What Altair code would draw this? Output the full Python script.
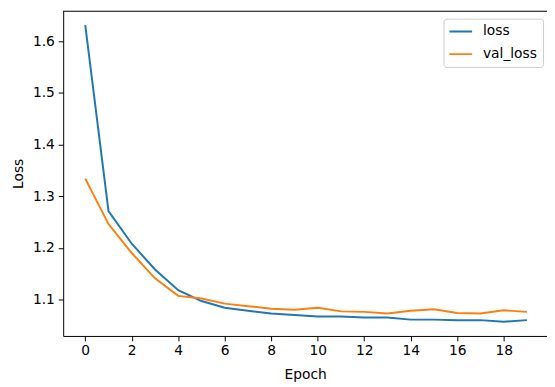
import altair as alt
import pandas as pd

epochs = list(range(20))
loss = [1.631, 1.271, 1.208, 1.158, 1.118, 1.097, 1.084, 1.078, 1.073, 1.070,
        1.067, 1.067, 1.065, 1.065, 1.061, 1.061, 1.060, 1.060, 1.057, 1.060]
val_loss = [1.334, 1.246, 1.190, 1.141, 1.107, 1.102, 1.092, 1.087, 1.082, 1.080,
            1.084, 1.077, 1.076, 1.073, 1.078, 1.081, 1.074, 1.073, 1.079, 1.076]
series_names = ["loss", "val_loss"]
series_colors = ["#1f77b4", "#ff7f0e"]
x_ticks = [0, 2, 4, 6, 8, 10, 12, 14, 16, 18]
y_ticks = [1.1, 1.2, 1.3, 1.4, 1.5, 1.6]

rows = []
for name, vals in zip(series_names, [loss, val_loss]):
    for e, v in zip(epochs, vals):
        rows.append({"Epoch": e, "Loss": v, "series": name})
df = pd.DataFrame(rows)

W, H = 491, 330
FONT = "DejaVu Sans"

lines = alt.Chart(df).mark_line(strokeWidth=2).encode(
    x=alt.X("Epoch:Q",
            scale=alt.Scale(domain=[-0.95, 19.865], nice=False, zero=False),
            axis=alt.Axis(values=x_ticks, title="Epoch", format="d",
                          labelPadding=3, titlePadding=10)),
    y=alt.Y("Loss:Q",
            scale=alt.Scale(domain=[1.0294, 1.659], nice=False, zero=False),
            axis=alt.Axis(values=y_ticks, title="Loss", format=".1f",
                          labelPadding=4, titlePadding=7)),
    color=alt.Color("series:N",
                    scale=alt.Scale(domain=series_names, range=series_colors),
                    legend=alt.Legend(title=None, orient="none", legendX=386, legendY=8,
                                      symbolType="stroke", symbolSize=900,
                                      symbolStrokeWidth=2, clipHeight=14,
                                      rowPadding=9, labelOffset=10,
                                      symbolOffset=-8,
                                      labelFontSize=14, labelFont=FONT,
                                      labelColor="#000", padding=6,
                                      fillColor="white", strokeColor="#cccccc",
                                      cornerRadius=3)),
)

top_spine = alt.Chart(pd.DataFrame({"v": [0]})).mark_rule(
    color="#000", strokeWidth=1.2
).encode(x=alt.value(0), x2=alt.value(W), y=alt.value(0.5))

chart = alt.layer(lines, top_spine).properties(
    width=W, height=H,
    autosize=alt.AutoSizeParams(type="none"),
    padding={"left": 56, "top": 0, "right": 0, "bottom": 49},
    background="white",
).configure_view(stroke=None).configure_axis(
    grid=False, domainColor="#000", tickColor="#000", labelColor="#000",
    titleColor="#000", labelFont=FONT, titleFont=FONT, labelFontSize=14,
    titleFontSize=14, titleFontWeight="normal", tickSize=5, domainWidth=1,
    tickWidth=1,
)

chart.save("out.html", embed_options={"renderer": "svg", "actions": False})
